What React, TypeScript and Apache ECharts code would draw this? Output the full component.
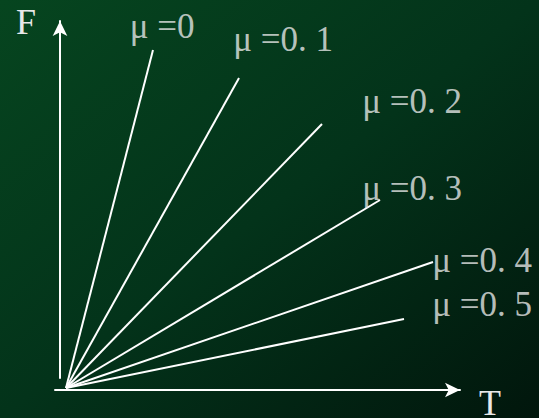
import React, { useEffect, useRef } from "react";
import * as echarts from "echarts";

// Friction coefficient labels and the end point of each F–T line (axis units)
const muLabels = ["μ =0", "μ =0. 1", "μ =0. 2", "μ =0. 3", "μ =0. 4", "μ =0. 5"];
const originPoint = [11, 2];
const endT = [98, 184, 267, 325, 378, 349];
const endF = [340, 312, 266, 190, 128, 71];
const axisTitleX = "T";
const axisTitleY = "F";

// layout only (pixel offsets of each label from its line end)
const labelOffsets = [
  [9, -24],
  [44, -39],
  [90, -23],
  [32, -12],
  [49, -2],
  [78, -15],
];

const FONT = "'Liberation Serif', 'DejaVu Serif', serif";
const TEXT_COLOR = "#e8e8e8";

export default function App() {
  const ref = useRef<HTMLDivElement>(null);

  useEffect(() => {
    if (!ref.current) return;
    const chart = echarts.init(ref.current, undefined, { renderer: "svg" });

    const lineSeries = muLabels.map((name, i) => ({
      type: "line",
      name,
      xAxisIndex: 0,
      yAxisIndex: 0,
      data: [originPoint, [endT[i], endF[i]]],
      symbol: "none",
      lineStyle: { color: "#ffffff", width: 2 },
      silent: true,
      z: 3,
    }));

    const labelSeries = {
      type: "scatter",
      xAxisIndex: 0,
      yAxisIndex: 0,
      symbolSize: 1,
      itemStyle: { color: "transparent" },
      data: muLabels.map((name, i) => ({
        name,
        value: [endT[i], endF[i]],
        label: { offset: labelOffsets[i] },
      })),
      label: {
        show: true,
        position: "inside",
        formatter: (p: any) => p.name,
        color: TEXT_COLOR,
        fontFamily: FONT,
        fontSize: 35,
        align: "center",
        verticalAlign: "middle",
      },
      z: 4,
    };

    chart.setOption({
      animation: false,
      backgroundColor: new echarts.graphic.LinearGradient(0, 0, 1, 1, [
        { offset: 0, color: "#06451f" },
        { offset: 0.5, color: "#03331a" },
        { offset: 1, color: "#01160c" },
      ]),
      grid: [
        { left: 55, top: 21, width: 405, height: 369 },
        { left: 60, top: 21, width: 10, height: 357 },
      ],
      xAxis: [
        {
          gridIndex: 0,
          type: "value",
          min: 0,
          max: 405,
          axisLine: {
            show: true,
            lineStyle: { color: "#ffffff", width: 2 },
            symbol: ["none", "arrow"],
            symbolSize: [11, 15],
          },
          axisTick: { show: false },
          axisLabel: { show: false },
          splitLine: { show: false },
        },
        { gridIndex: 1, type: "value", show: false, min: 0, max: 1 },
      ],
      yAxis: [
        {
          gridIndex: 0,
          type: "value",
          min: 0,
          max: 369,
          show: false,
        },
        {
          gridIndex: 1,
          type: "value",
          min: 0,
          max: 357,
          axisLine: {
            show: true,
            lineStyle: { color: "#ffffff", width: 2 },
            symbol: ["none", "arrow"],
            symbolSize: [11, 15],
          },
          axisTick: { show: false },
          axisLabel: { show: false },
          splitLine: { show: false },
        },
      ],
      graphic: [
        {
          type: "text",
          left: 16,
          top: 4,
          style: { text: axisTitleY, fill: TEXT_COLOR, font: `36px ${FONT}` },
        },
        {
          type: "text",
          left: 479,
          top: 385,
          style: { text: axisTitleX, fill: TEXT_COLOR, font: `36px ${FONT}` },
        },
      ],
      series: [...lineSeries, labelSeries],
    });

    return () => chart.dispose();
  }, []);

  return (
    <div
      ref={ref}
      style={{ position: "fixed", left: 0, top: 0, width: 539, height: 418 }}
    />
  );
}
